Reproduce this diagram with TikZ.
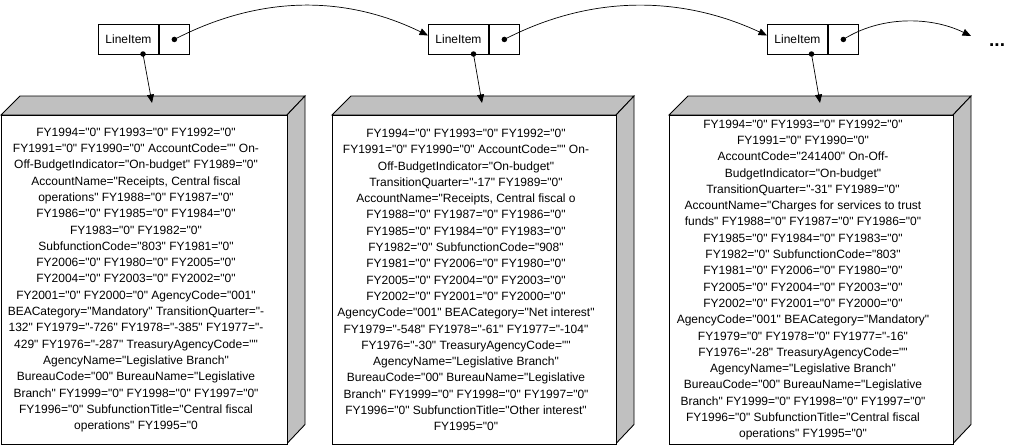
\documentclass[tikz,border=0pt]{standalone}
\usepackage{fontspec}
\setmainfont{Liberation Sans}[Ligatures=TeXOff]
\usetikzlibrary{arrows.meta}
\definecolor{boxgray}{HTML}{C0C0C0}
\newcommand\threedbox[4]{%
  \draw[sideface] (#2,115) -- (#2+19,96) -- (#3+18,96) -- (#3,115) -- cycle;
  \draw[sideface] (#3,115) -- (#3+18,96) -- (#3+18,424.5) -- (#3,443.5) -- cycle;
  \node[frontface, minimum width=#3-#2, minimum height=328.5, anchor=north west] (#1) at (#2,115) {};
  \node[bodytext] (#1t) at ({(#2+#3)/2-8},280) {#4};
}
\begin{document}
\begin{tikzpicture}[x=1pt,y=-1pt,
  cell/.style={draw, line width=0.9pt, minimum height=30, inner sep=0pt, font=\fontsize{12pt}{14pt}\selectfont},
  dotn/.style={circle, fill, inner sep=0pt, minimum size=5.5pt},
  link/.style={line width=0.7pt, -{Triangle[length=8.5pt,width=7pt]}},
  sideface/.style={draw, line width=0.9pt, fill=boxgray, line join=miter},
  frontface/.style={draw, line width=0.9pt, fill=white, inner sep=0pt},
  bodytext/.style={align=center, inner sep=0pt, font=\fontsize{12pt}{16.3pt}\selectfont}]
\useasboundingbox (0,0) rectangle (1016,445);
\fill[white] (0,0) rectangle (1016,445);

% 3D record boxes
\threedbox{rec1}{1}{287}{FY1994="0" FY1993="0" FY1992="0"\\
FY1991="0" FY1990="0" AccountCode="" On-\\
Off-BudgetIndicator="On-budget" FY1989="0"\\
AccountName="Receipts, Central fiscal\\
operations" FY1988="0" FY1987="0"\\
FY1986="0" FY1985="0" FY1984="0"\\
FY1983="0" FY1982="0"\\
SubfunctionCode="803" FY1981="0"\\
FY2006="0" FY1980="0" FY2005="0"\\
FY2004="0" FY2003="0" FY2002="0"\\
FY2001="0" FY2000="0" AgencyCode="001"\\
BEACategory="Mandatory" TransitionQuarter="-\\
132" FY1979="-726" FY1978="-385" FY1977="-\\
429" FY1976="-287" TreasuryAgencyCode=""\\
AgencyName="Legislative Branch"\\
BureauCode="00" BureauName="Legislative\\
Branch" FY1999="0" FY1998="0" FY1997="0"\\
FY1996="0" SubfunctionTitle="Central fiscal\\
operations" FY1995="0}

\threedbox{rec2}{332}{616}{FY1994="0" FY1993="0" FY1992="0"\\
FY1991="0" FY1990="0" AccountCode="" On-\\
Off-BudgetIndicator="On-budget"\\
TransitionQuarter="-17" FY1989="0"\\
AccountName="Receipts, Central fiscal o\\
FY1988="0" FY1987="0" FY1986="0"\\
FY1985="0" FY1984="0" FY1983="0"\\
FY1982="0" SubfunctionCode="908"\\
FY1981="0" FY2006="0" FY1980="0"\\
FY2005="0" FY2004="0" FY2003="0"\\
FY2002="0" FY2001="0" FY2000="0"\\
AgencyCode="001" BEACategory="Net interest"\\
FY1979="-548" FY1978="-61" FY1977="-104"\\
FY1976="-30" TreasuryAgencyCode=""\\
AgencyName="Legislative Branch"\\
BureauCode="00" BureauName="Legislative\\
Branch" FY1999="0" FY1998="0" FY1997="0"\\
FY1996="0" SubfunctionTitle="Other interest"\\
FY1995="0"}

\threedbox{rec3}{669}{953}{FY1994="0" FY1993="0" FY1992="0"\\
FY1991="0" FY1990="0"\\
AccountCode="241400" On-Off-\\
BudgetIndicator="On-budget"\\
TransitionQuarter="-31" FY1989="0"\\
AccountName="Charges for services to trust\\
funds" FY1988="0" FY1987="0" FY1986="0"\\
FY1985="0" FY1984="0" FY1983="0"\\
FY1982="0" SubfunctionCode="803"\\
FY1981="0" FY2006="0" FY1980="0"\\
FY2005="0" FY2004="0" FY2003="0"\\
FY2002="0" FY2001="0" FY2000="0"\\
AgencyCode="001" BEACategory="Mandatory"\\
FY1979="0" FY1978="0" FY1977="-16"\\
FY1976="-28" TreasuryAgencyCode=""\\
AgencyName="Legislative Branch"\\
BureauCode="00" BureauName="Legislative\\
Branch" FY1999="0" FY1998="0" FY1997="0"\\
FY1996="0" SubfunctionTitle="Central fiscal\\
operations" FY1995="0"}

\coordinate (top1) at (152,103);
\coordinate (top2) at (482,103);
\coordinate (top3) at (820,103);

% LineItem cells
\node[cell, minimum width=60, anchor=north west] (li1) at (98,24) {LineItem};
\node[cell, minimum width=30, anchor=west] (p1) at (li1.east) {};
\node[cell, minimum width=60, anchor=north west] (li2) at (428,24) {LineItem};
\node[cell, minimum width=30, anchor=west] (p2) at (li2.east) {};
\node[cell, minimum width=60, anchor=north west] (li3) at (767,24) {LineItem};
\node[cell, minimum width=30, anchor=west] (p3) at (li3.east) {};

\node[dotn] (d1) at (p1.center) {};
\node[dotn] (d2) at (p2.center) {};
\node[dotn] (d3) at (p3.center) {};
\node[dotn] (b1) at (143,54) {};
\node[dotn] (b2) at (473.5,54) {};
\node[dotn] (b3) at (811.5,54) {};

% pointers to records
\draw[link] (b1.center) -- (top1);
\draw[link] (b2.center) -- (top2);
\draw[link] (b3.center) -- (top3);

% next pointers
\draw[link] (d1.center) .. controls (260,-5) and (345,-5) .. ([yshift=4pt]li2.west);
\draw[link] (d2.center) .. controls (590,-5) and (680,-5) .. ([yshift=4pt]li3.west);
\coordinate (more) at (971,36);
\draw[link] (d3.center) .. controls (880,16) and (930,16) .. (more);
\node[anchor=base west, inner sep=0pt, font=\bfseries\fontsize{19pt}{19pt}\selectfont] (dots) at (989,46) {...};
\end{tikzpicture}
\end{document}
